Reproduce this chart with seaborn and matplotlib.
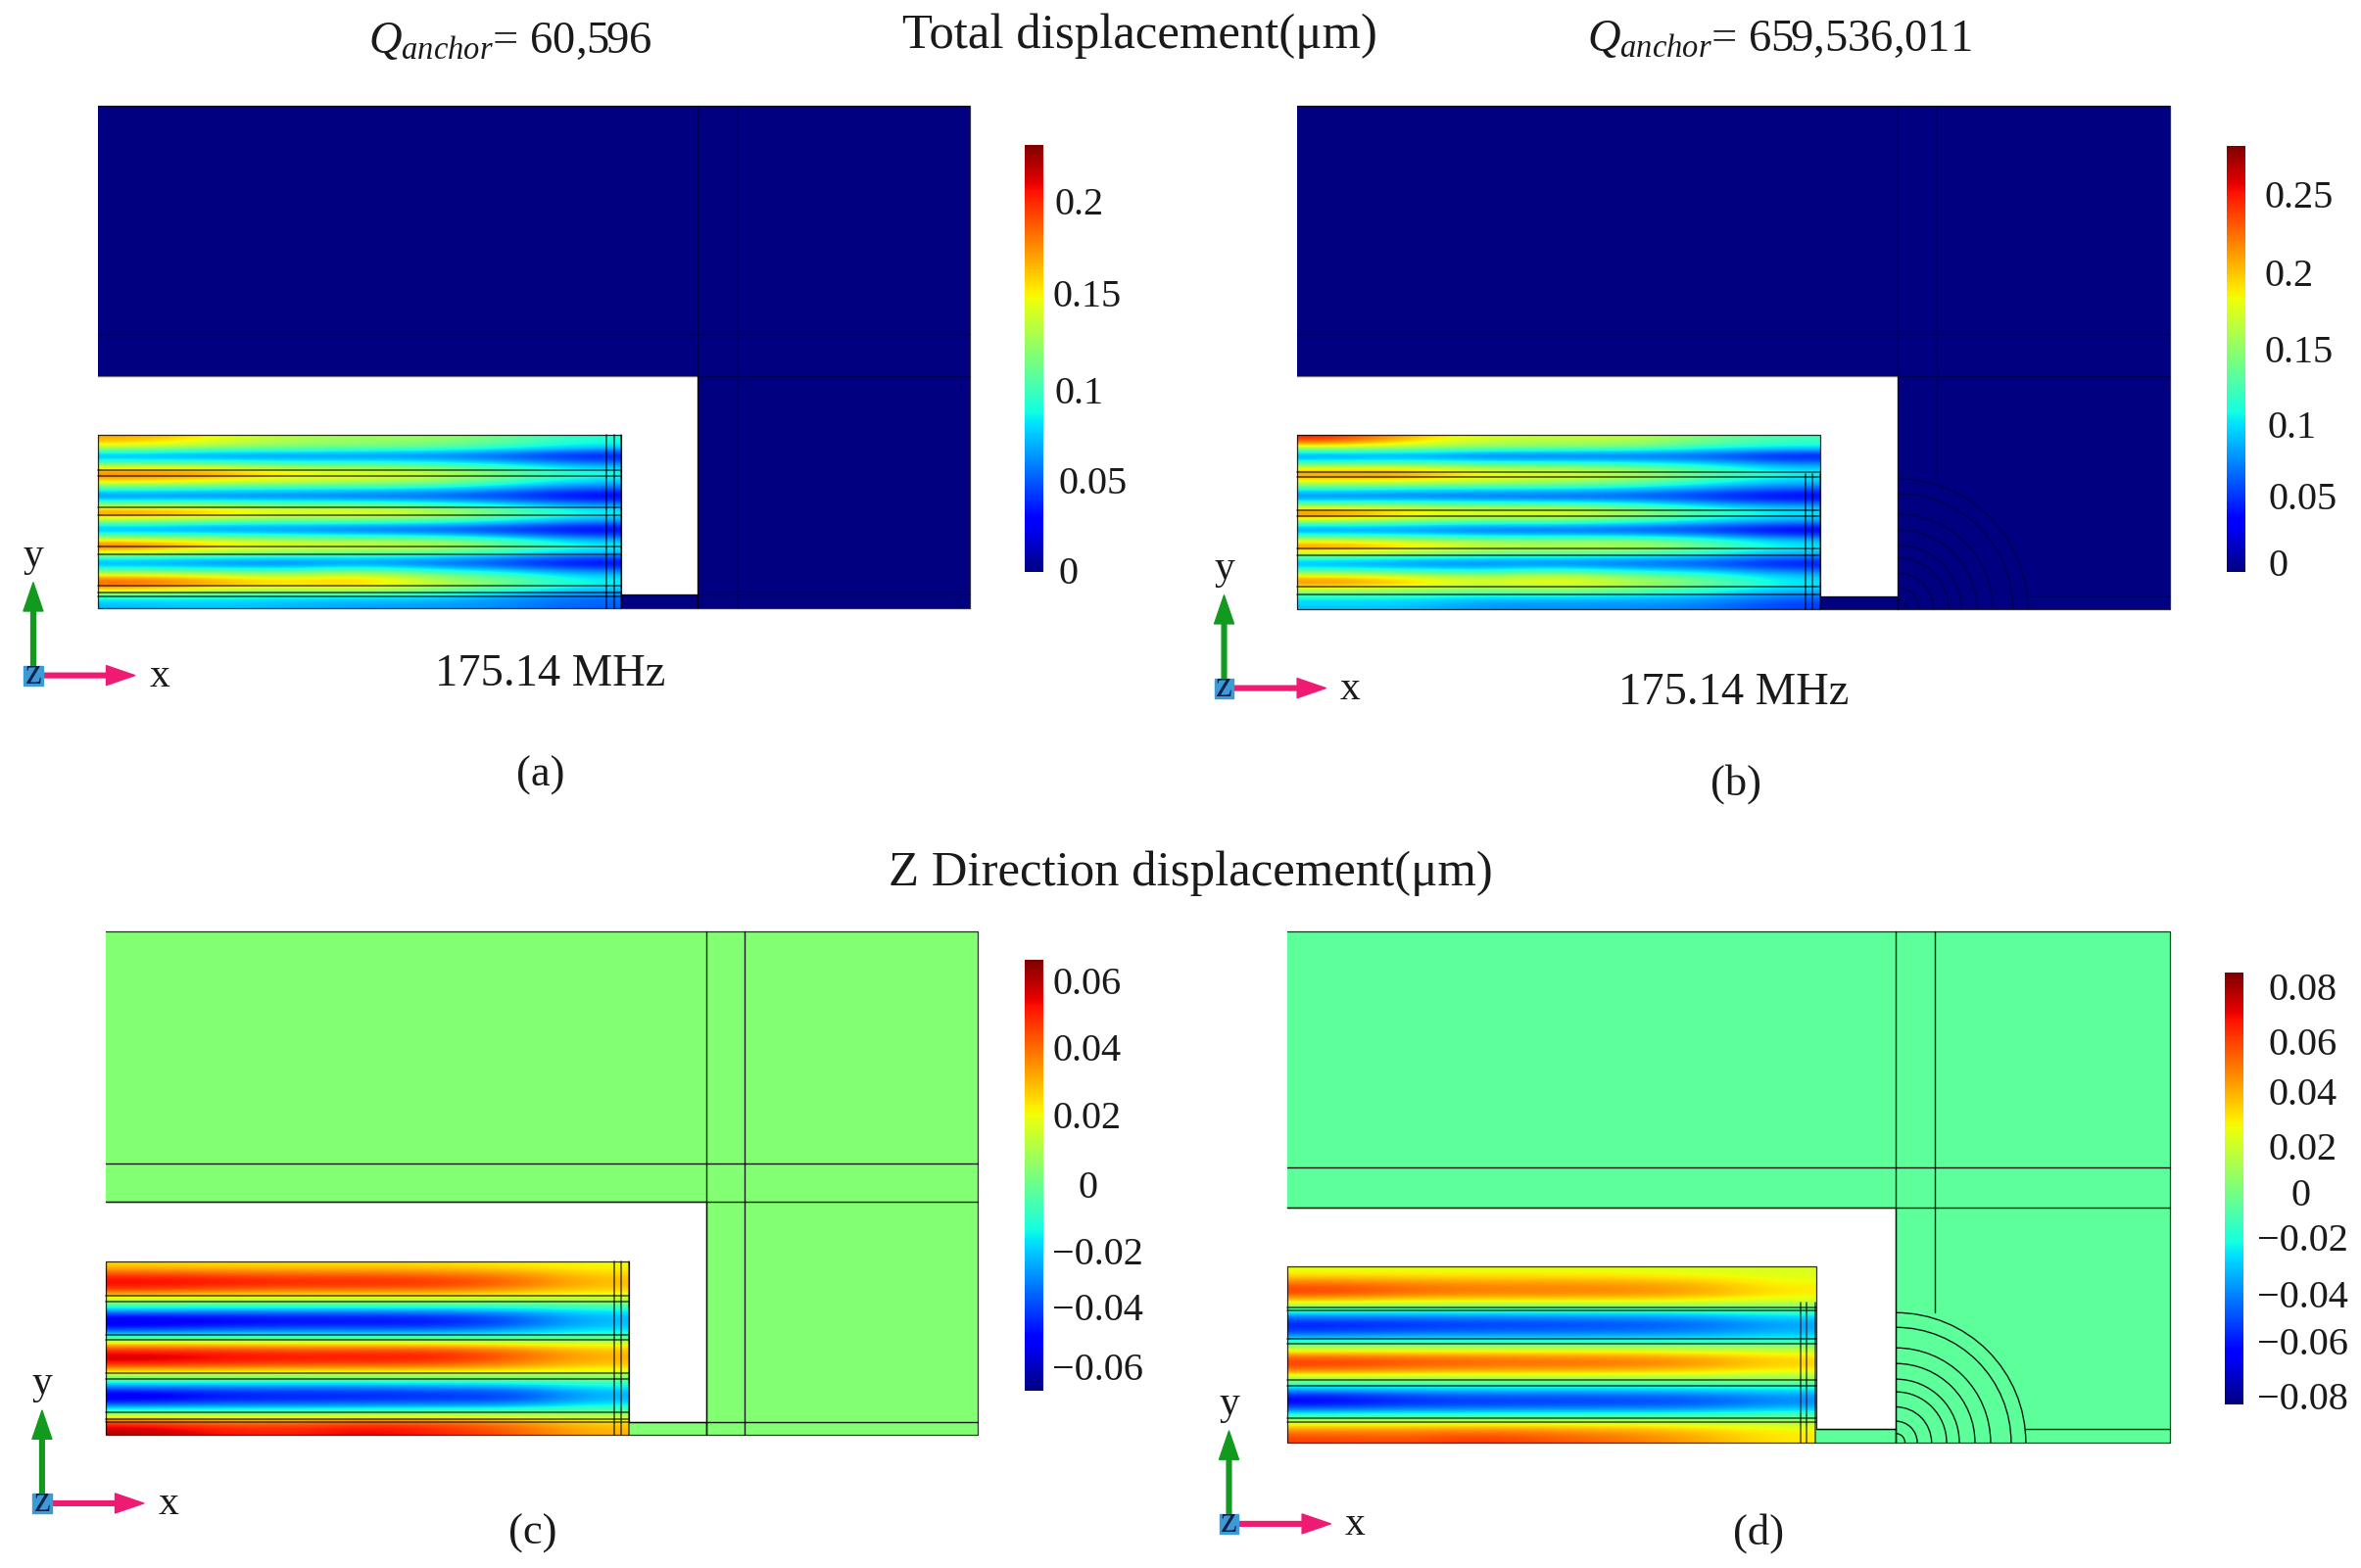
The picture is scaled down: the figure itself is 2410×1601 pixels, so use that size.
import numpy as np
import matplotlib
matplotlib.use("Agg")
import matplotlib.pyplot as plt
from matplotlib.patches import Rectangle, Arc
import seaborn as sns

W, H = 2410, 1601
S = 0.998  # layout numbers below were measured about 0.2% too large

# ---- data (displacement, um) ----
field_a = [
 [.170,.150,.130,.125,.125,.110,.090],
 [.140,.125,.120,.115,.110,.095,.080],
 [.055,.050,.050,.050,.048,.040,.025],
 [.110,.110,.100,.100,.095,.080,.060],
 [.185,.180,.155,.150,.140,.115,.090],
 [.165,.155,.145,.140,.130,.105,.080],
 [.095,.090,.085,.085,.080,.065,.050],
 [.050,.050,.050,.045,.042,.035,.020],
 [.125,.125,.115,.115,.105,.085,.065],
 [.190,.175,.155,.160,.145,.115,.090],
 [.115,.105,.100,.100,.095,.080,.060],
 [.055,.050,.050,.042,.038,.030,.020],
 [.130,.125,.115,.110,.105,.085,.060],
 [.200,.170,.155,.150,.145,.120,.090],
 [.120,.110,.105,.100,.095,.080,.065],
 [.055,.050,.045,.055,.045,.035,.020],
 [.110,.105,.100,.115,.095,.080,.060],
 [.190,.175,.155,.170,.135,.115,.085],
 [.180,.160,.150,.155,.130,.105,.080],
 [.095,.090,.085,.085,.080,.065,.055],
 [.070,.075,.070,.065,.065,.060,.050],
]
field_b = [
 [.250,.200,.170,.165,.165,.140,.120],
 [.170,.160,.150,.145,.140,.115,.105],
 [.060,.065,.050,.050,.052,.050,.030],
 [.130,.135,.125,.125,.115,.100,.075],
 [.220,.220,.185,.180,.165,.135,.105],
 [.190,.190,.175,.165,.150,.120,.095],
 [.110,.100,.100,.100,.090,.075,.060],
 [.060,.060,.055,.050,.052,.040,.025],
 [.150,.150,.140,.140,.125,.095,.080],
 [.240,.205,.185,.195,.165,.130,.105],
 [.140,.130,.120,.120,.110,.090,.075],
 [.060,.060,.050,.050,.045,.040,.020],
 [.155,.145,.130,.130,.130,.110,.080],
 [.230,.205,.180,.170,.175,.140,.105],
 [.145,.135,.120,.120,.110,.100,.080],
 [.070,.060,.060,.060,.055,.050,.030],
 [.135,.125,.115,.135,.110,.100,.075],
 [.230,.205,.175,.195,.165,.140,.100],
 [.180,.170,.155,.165,.145,.125,.095],
 [.105,.105,.095,.095,.090,.085,.065],
 [.090,.090,.075,.075,.075,.070,.050],
]
field_c = [
 [.025,.024,.024,.024,.024,.022,.020],
 [.046,.044,.042,.042,.040,.036,.026],
 [.057,.055,.052,.052,.050,.042,.030],
 [.040,.036,.034,.034,.034,.030,.024],
 [.010,.010,.010,.010,.010,.008,.010],
 [-.018,-.020,-.020,-.020,-.020,-.018,-.014],
 [-.050,-.048,-.046,-.046,-.044,-.036,-.022],
 [-.046,-.042,-.040,-.040,-.040,-.032,-.020],
 [-.018,-.016,-.016,-.016,-.016,-.014,-.010],
 [.028,.028,.026,.026,.026,.022,.020],
 [.055,.052,.050,.050,.050,.042,.030],
 [.058,.054,.052,.052,.050,.040,.030],
 [.030,.030,.028,.028,.028,.026,.022],
 [.000,.000,.000,.000,.000,.000,.000],
 [-.030,-.030,-.030,-.030,-.028,-.026,-.016],
 [-.054,-.046,-.044,-.044,-.042,-.040,-.024],
 [-.034,-.032,-.032,-.030,-.030,-.028,-.016],
 [.002,.002,.002,.002,.004,.004,.004],
 [.046,.040,.040,.044,.042,.036,.026],
 [.060,.052,.050,.056,.050,.042,.030],
]
field_d = [
 [.022,.022,.022,.022,.022,.020,.020],
 [.045,.042,.040,.040,.038,.034,.024],
 [.065,.058,.052,.052,.050,.044,.030],
 [.035,.030,.030,.030,.030,.028,.022],
 [-.015,-.015,-.015,-.015,-.015,-.014,-.010],
 [-.055,-.054,-.052,-.050,-.048,-.044,-.034],
 [-.058,-.054,-.050,-.050,-.048,-.044,-.034],
 [-.022,-.020,-.022,-.022,-.022,-.022,-.020],
 [.020,.020,.020,.020,.020,.018,.018],
 [.063,.060,.056,.054,.052,.046,.034],
 [.055,.050,.046,.046,.044,.038,.030],
 [.006,.006,.006,.006,.006,.006,.006],
 [-.030,-.028,-.026,-.026,-.026,-.024,-.022],
 [-.070,-.060,-.056,-.056,-.054,-.052,-.042],
 [-.050,-.046,-.046,-.044,-.044,-.042,-.032],
 [.002,.002,.002,.002,.002,.002,.002],
 [.040,.040,.042,.040,.038,.032,.026],
 [.060,.056,.062,.056,.050,.040,.028],
]
anchor_values = {"a": 0.0, "b": 0.0, "c": 0.0035, "d": -0.005}
color_ranges = {"a": (0, .231), "b": (0, .282), "c": (-.061, .066), "d": (-.0835, .086)}
ticks_a = ["0.2", "0.15", "0.1", "0.05", "0"]
ticks_b = ["0.25", "0.2", "0.15", "0.1", "0.05", "0"]
ticks_c = ["0.06", "0.04", "0.02", "0", "\u22120.02", "\u22120.04", "\u22120.06"]
ticks_d = ["0.08", "0.06", "0.04", "0.02", "0", "\u22120.02", "\u22120.04", "\u22120.06", "\u22120.08"]

# ---- layout, in pixels ----
arc_radii = [9.4, 22, 36.6, 52, 65, 81, 97, 118, 133]
layout = {
 "a": dict(L=100, R=992, top=108, notch=385, strip_top=445, bottom=622, strip_r=635, notch_r=713, bar=608,
           v=[713, 755], h=[342, 385], sh=[481,487,519,527,559,567,599,606,610], sv=[620,628,635], sv_top=445,
           cb=(1048,148,1067,585), origin=(34,691), arcs=False,
           tick_pos=[(1104,206),(1112,300),(1104,399),(1118,491),(1093,584)]),
 "b": dict(L=1327, R=2219, top=108, notch=385, strip_top=445, bottom=623, strip_r=1862, notch_r=1941, bar=610,
           v=[1941,1981], h=[342,385], sh=[483,488,522,528,561,568,600,608], sv=[1847,1854,1862], sv_top=485,
           cb=(2278,149,2297,585), origin=(1252,704), arcs=True,
           tick_pos=[(2351,199),(2341,279),(2351,357),(2344,434),(2355,508),(2330,576)]),
 "c": dict(L=108, R=1000, top=953, notch=1229, strip_top=1291, bottom=1468, strip_r=643, notch_r=722, bar=1455,
           v=[722,762], h=[1190,1229], sh=[1326,1332,1366,1371,1405,1411,1445,1452,1455], sv=[628,635,643], sv_top=1291,
           cb=(1048,982,1067,1423), origin=(43,1538), arcs=False,
           tick_pos=[(1112,1004),(1112,1072),(1112,1141),(1113,1212),(1123,1280),(1123,1337),(1123,1398)]),
 "d": dict(L=1317, R=2219, top=953, notch=1235, strip_top=1296, bottom=1476, strip_r=1858, notch_r=1939, bar=1462,
           v=[1939,1979], h=[1194,1235], sh=[1338,1341,1370,1375,1412,1418,1451,1455], sv=[1842,1848,1857], sv_top=1333,
           cb=(2276,995,2295,1437), origin=(1257,1559), arcs=True,
           tick_pos=[(2355,1010),(2355,1066),(2355,1117),(2355,1173),(2353,1220),(2355,1266),(2355,1324),(2355,1372),(2355,1428)]),
}
fields = {"a": field_a, "b": field_b, "c": field_c, "d": field_d}
tick_labels = {"a": ticks_a, "b": ticks_b, "c": ticks_c, "d": ticks_d}

sns.set_theme(style="white")
plt.rcParams["font.family"] = ["Liberation Serif", "DejaVu Serif"]
plt.rcParams["mathtext.fontset"] = "custom"
plt.rcParams["mathtext.it"] = "Liberation Serif:italic"
plt.rcParams["mathtext.rm"] = "Liberation Serif"
cmap = matplotlib.colormaps["jet"]

fig = plt.figure(figsize=(W / 100, H / 100), dpi=100, facecolor="white")


def pixel_axes(x0, y0, x1, y1, **kw):
    x0, y0, x1, y1 = x0 * S, y0 * S, x1 * S, y1 * S
    return fig.add_axes([x0 / W, 1 - y1 / H, (x1 - x0) / W, (y1 - y0) / H], **kw)


def block(x0, y0, x1, y1, value, vmin, vmax, cax=None):
    ax = pixel_axes(x0, y0, x1, y1)
    sns.heatmap(np.array([[value]]), ax=ax, cmap=cmap, vmin=vmin, vmax=vmax,
                cbar=cax is not None, cbar_ax=cax, xticklabels=False, yticklabels=False)
    return ax


over = fig.add_axes([0, 0, 1, 1], zorder=20)
over.set_xlim(0, W / S)
over.set_ylim(H / S, 0)
over.axis("off")
over.patch.set_alpha(0)

for key, g in layout.items():
    vmin, vmax = color_ranges[key]
    val = anchor_values[key]
    x0, y0, x1, y1 = g["cb"]
    cax = pixel_axes(x0, y0, x1, y1)
    block(g["L"], g["top"], g["R"], g["notch"], val, vmin, vmax, cax=cax)
    cax.set_yticks([])
    cax.tick_params(length=0)
    for s in cax.spines.values():
        s.set_visible(False)
    block(g["notch_r"], g["notch"], g["R"], g["bottom"], val, vmin, vmax)
    block(g["strip_r"], g["bar"], g["notch_r"], g["bottom"], val, vmin, vmax)

    # resonator displacement field
    ax = pixel_axes(g["L"], g["strip_top"], g["strip_r"], g["bottom"])
    ax.imshow(np.array(fields[key]), cmap=cmap, vmin=vmin, vmax=vmax, aspect="auto",
              interpolation="bicubic")
    ax.axis("off")

    # mesh lines
    alpha = 0.35 if key in "ab" else 0.9
    over.plot([g["L"], g["R"], g["R"], g["notch_r"], g["notch_r"], g["strip_r"], g["strip_r"], g["L"], g["L"], g["notch_r"], g["notch_r"]],
              [g["top"], g["top"], g["bottom"], g["bottom"], g["bar"], g["bar"], g["strip_top"], g["strip_top"], g["bottom"], g["bottom"], g["notch"]],
              color="black", lw=0.9, alpha=0.8)
    over.plot([g["L"], g["notch_r"]], [g["notch"], g["notch"]], color="black", lw=0.9, alpha=alpha)
    for xv in g["v"]:
        y_end = g["bottom"] - 133 if (g["arcs"] and xv != g["v"][0]) else g["bottom"]
        over.plot([xv, xv], [g["top"], y_end], color="black", lw=1.0, alpha=alpha)
    for yh in g["h"]:
        over.plot([g["L"], g["R"]], [yh, yh], color="black", lw=1.0, alpha=alpha)
    for yh in g["sh"]:
        over.plot([g["L"], g["strip_r"]], [yh, yh], color="black", lw=1.1, alpha=0.7)
    for xv in g["sv"]:
        over.plot([xv, xv], [g["sv_top"], g["bottom"]], color="black", lw=1.1, alpha=0.7)
    bar_end = g["notch_r"] if g["arcs"] else g["R"]
    over.plot([g["strip_r"], bar_end], [g["bar"], g["bar"]], color="black", lw=1.0, alpha=alpha)
    if g["arcs"]:
        over.plot([g["notch_r"] + 133, g["R"]], [g["bar"], g["bar"]], color="black", lw=1.0, alpha=alpha)
        for r in arc_radii:
            over.add_patch(Arc((g["notch_r"], g["bottom"]), 2 * r, 2 * r, theta1=270, theta2=360,
                               color="black", lw=1.0, alpha=alpha))

    # colour scale labels
    for txt, (tx, ty) in zip(tick_labels[key], g["tick_pos"]):
        over.text(tx, ty + 4, txt, fontsize=29, ha="center", va="center", color="#1a1a1a")

    # axis triad
    ox, oy = g["origin"]
    over.annotate("", xy=(ox, oy - 95), xytext=(ox, oy - 8),
                  arrowprops=dict(width=3.4, headwidth=14.4, headlength=21, color="#119a1d", shrink=0))
    over.annotate("", xy=(ox + 104, oy), xytext=(ox + 8, oy),
                  arrowprops=dict(width=3.4, headwidth=14.4, headlength=21, color="#ef1a72", shrink=0))
    over.add_patch(Rectangle((ox - 10, oy - 10), 20, 20, color="#3c9ad6", zorder=5))
    over.text(ox, oy - 1, "z", fontsize=27, ha="center", va="center", color="#10204a", zorder=6)
    over.text(ox, oy - 122, "y", fontsize=30, ha="center", va="center", color="#1a1a1a")
    over.text(ox + 129, oy + 1, "x", fontsize=30, ha="center", va="center", color="#1a1a1a")

# ---- titles and captions ----
TXT = dict(ha="center", va="center", color="#1a1a1a")
over.text(1166, 37, "Total displacement(\u03bcm)", fontsize=36.5, **TXT)
over.text(1218, 894, "Z Direction displacement(\u03bcm)", fontsize=36.5, **TXT)
over.text(522, 43, r"$\mathit{Q}_{\mathit{anchor}}$= 60,596", fontsize=33.5, **TXT)
over.text(1820, 41, r"$\mathit{Q}_{\mathit{anchor}}$= 659,536,011", fontsize=33.5, **TXT)
over.text(563, 690, "175.14 MHz", fontsize=33.5, **TXT)
over.text(1773, 709, "175.14 MHz", fontsize=33.5, **TXT)
over.text(553, 793, "(a)", fontsize=32, **TXT)
over.text(1776, 802, "(b)", fontsize=32, **TXT)
over.text(545, 1569, "(c)", fontsize=32, **TXT)
over.text(1799, 1569, "(d)", fontsize=32, **TXT)

fig.savefig("out.png", dpi=100, facecolor="white")
